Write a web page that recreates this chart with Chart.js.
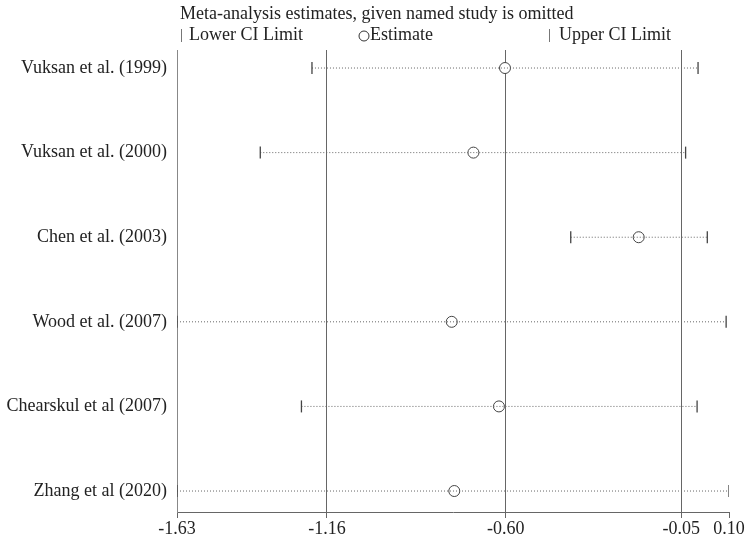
<!DOCTYPE html>
<html>
<head>
<meta charset="utf-8">
<script src="https://cdn.jsdelivr.net/npm/chart.js@4/dist/chart.umd.min.js"></script>
<style>
  html, body { margin: 0; padding: 0; background: #fff; }
  #wrap { width: 752px; height: 536px; position: relative; }
</style>
</head>
<body>
<div id="wrap"><canvas id="sensChart"></canvas></div>
<script>
const studies = ['Vuksan et al. (1999)', 'Vuksan et al. (2000)', 'Chen et al. (2003)', 'Wood et al. (2007)', 'Chearskul et al (2007)', 'Zhang et al (2020)'];
const lowerCI = [-1.207, -1.369, -0.396, -1.630, -1.240, -1.630];
const estimate = [-0.602, -0.701, -0.183, -0.769, -0.621, -0.761];
const upperCI = [0.003, -0.036, 0.032, 0.091, 0.000, 0.100];
const xTicks = [-1.63, -1.16, -0.60, -0.05, 0.10];
const gridAt = [-1.16, -0.60, -0.05];

const serif = '"Liberation Serif", "Times New Roman", serif';

// title + legend text above the plot
const headerText = {
  id: 'headerText',
  afterDraw(chart) {
    const c = chart.ctx;
    c.save();
    c.fillStyle = '#222';
    c.font = '18px ' + serif;
    c.textBaseline = 'middle';
    c.textAlign = 'left';
    c.fillText('Meta-analysis estimates, given named study is omitted', 180, 14);
    c.fillText('Lower CI Limit', 189, 35);
    c.fillText('Estimate', 370, 35);
    c.fillText('Upper CI Limit', 559, 35);
    c.strokeStyle = '#777';
    c.lineWidth = 1;
    c.beginPath();
    c.moveTo(181.5, 29); c.lineTo(181.5, 42);
    c.moveTo(549.5, 29); c.lineTo(549.5, 42);
    c.stroke();
    c.beginPath();
    c.arc(364, 36, 5, 0, Math.PI * 2);
    c.strokeStyle = '#333';
    c.stroke();
    c.restore();
  }
};

const ciSets = studies.map((s, i) => ({
  type: 'line',
  label: s,
  data: [{ x: lowerCI[i], y: i }, { x: upperCI[i], y: i }],
  borderColor: '#666',
  borderWidth: 1,
  borderDash: [1, 2],
  pointStyle: 'line',
  rotation: 90,
  pointRadius: 6,
  pointBorderColor: '#444',
  pointBorderWidth: 1.3,
  fill: false
}));

const estSet = {
  type: 'scatter',
  label: 'Estimate',
  data: estimate.map((v, i) => ({ x: v, y: i })),
  pointStyle: 'circle',
  pointRadius: 5.5,
  pointBackgroundColor: '#fff',
  pointBorderColor: '#444',
  pointBorderWidth: 1
};

new Chart(document.getElementById('sensChart').getContext('2d'), {
  type: 'scatter',
  data: { datasets: [...ciSets, estSet] },
  plugins: [headerText],
  options: {
    responsive: true,
    maintainAspectRatio: false,
    animation: false,
    layout: { padding: { top: 50, right: 23, left: 0, bottom: 0 } },
    plugins: {
      legend: { display: false },
      tooltip: { enabled: false }
    },
    scales: {
      x: {
        type: 'linear',
        min: -1.63,
        max: 0.10,
        afterBuildTicks: scale => { scale.ticks = xTicks.map(v => ({ value: v })); },
        afterFit: scale => { scale.height = 24; },
        ticks: {
          autoSkip: false,
          maxRotation: 0,
          padding: 0,
          color: '#222',
          font: { family: serif, size: 18 },
          callback: v => v.toFixed(2)
        },
        grid: {
          drawOnChartArea: true,
          tickLength: 6,
          color: ctx => (ctx.tick && gridAt.some(g => Math.abs(g - ctx.tick.value) < 1e-6)) ? '#666' : 'rgba(0,0,0,0)',
          tickColor: '#666',
          lineWidth: 1
        },
        border: { display: true, color: '#666' }
      },
      y: {
        type: 'linear',
        reverse: true,
        min: -0.213,
        max: 5.248,
        afterBuildTicks: scale => { scale.ticks = studies.map((s, i) => ({ value: i })); },
        afterFit: scale => { scale.width = 177; },
        ticks: {
          autoSkip: false,
          padding: 10,
          color: '#222',
          font: { family: serif, size: 18 },
          callback: v => studies[v]
        },
        grid: { display: false, drawTicks: false },
        border: { display: true, color: '#888' }
      }
    }
  }
});
</script>
</body>
</html>
